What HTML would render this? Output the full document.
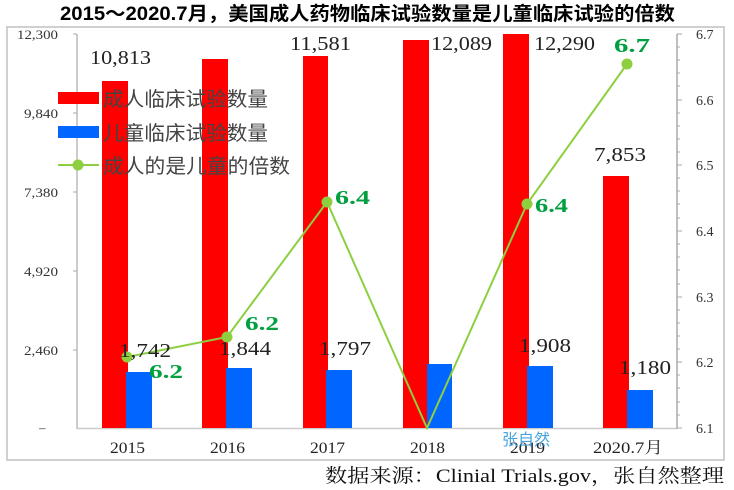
<!DOCTYPE html>
<html><head><meta charset="utf-8"><style>
html,body{margin:0;padding:0;background:#fff;}
svg{display:block;}
.ser{font-family:"Liberation Serif","Noto Serif CJK SC",serif;}
.cj{font-family:"Liberation Sans","Noto Sans CJK SC",sans-serif;}
</style></head><body>
<svg width="734" height="490" viewBox="0 0 734 490" xmlns="http://www.w3.org/2000/svg">
<rect width="734" height="490" fill="#fff"/>
<text x="60" y="20" textLength="615" lengthAdjust="spacingAndGlyphs" class="cj" font-size="19" font-weight="bold" fill="#000">2015～2020.7月，美国成人药物临床试验数量是儿童临床试验的倍数</text>
<rect x="7" y="27" width="717" height="433" fill="none" stroke="#d0d0d0" stroke-width="2"/>
<line x1="77" y1="34" x2="77" y2="429" stroke="#bbb" stroke-width="1.5"/>
<line x1="77" y1="428.5" x2="677" y2="428.5" stroke="#ccc" stroke-width="1.5"/>
<line x1="677" y1="34" x2="677" y2="429" stroke="#aaa" stroke-width="1.5"/>
<g stroke="#aaa" stroke-width="1">
<line x1="73" y1="34" x2="77" y2="34"/><line x1="73" y1="113" x2="77" y2="113"/><line x1="73" y1="192" x2="77" y2="192"/><line x1="73" y1="271" x2="77" y2="271"/><line x1="73" y1="350" x2="77" y2="350"/>
</g>
<g stroke="#aaa" stroke-width="1">
<line x1="677" y1="34" x2="682" y2="34"/><line x1="677" y1="100" x2="682" y2="100"/><line x1="677" y1="165" x2="682" y2="165"/><line x1="677" y1="231" x2="682" y2="231"/><line x1="677" y1="297" x2="682" y2="297"/><line x1="677" y1="362" x2="682" y2="362"/><line x1="677" y1="428" x2="682" y2="428"/>
<line x1="677" y1="47" x2="680" y2="47"/><line x1="677" y1="60" x2="680" y2="60"/><line x1="677" y1="73" x2="680" y2="73"/><line x1="677" y1="86" x2="680" y2="86"/>
<line x1="677" y1="113" x2="680" y2="113"/><line x1="677" y1="126" x2="680" y2="126"/><line x1="677" y1="139" x2="680" y2="139"/><line x1="677" y1="152" x2="680" y2="152"/>
<line x1="677" y1="178" x2="680" y2="178"/><line x1="677" y1="191" x2="680" y2="191"/><line x1="677" y1="204" x2="680" y2="204"/><line x1="677" y1="218" x2="680" y2="218"/>
<line x1="677" y1="244" x2="680" y2="244"/><line x1="677" y1="257" x2="680" y2="257"/><line x1="677" y1="270" x2="680" y2="270"/><line x1="677" y1="284" x2="680" y2="284"/>
<line x1="677" y1="310" x2="680" y2="310"/><line x1="677" y1="323" x2="680" y2="323"/><line x1="677" y1="336" x2="680" y2="336"/><line x1="677" y1="349" x2="680" y2="349"/>
<line x1="677" y1="375" x2="680" y2="375"/><line x1="677" y1="388" x2="680" y2="388"/><line x1="677" y1="402" x2="680" y2="402"/><line x1="677" y1="415" x2="680" y2="415"/>
</g>
<g class="ser" font-size="13" fill="#333">
<text x="17" y="39" textLength="41" lengthAdjust="spacingAndGlyphs">12,300</text>
<text x="24" y="118" textLength="34" lengthAdjust="spacingAndGlyphs">9,840</text>
<text x="24" y="197" textLength="34" lengthAdjust="spacingAndGlyphs">7,380</text>
<text x="24" y="276" textLength="34" lengthAdjust="spacingAndGlyphs">4,920</text>
<text x="24" y="355" textLength="34" lengthAdjust="spacingAndGlyphs">2,460</text>
<text x="39" y="432">–</text>
</g>
<g class="ser" font-size="14" fill="#333">
<text x="696" y="39">6.7</text><text x="696" y="105">6.6</text><text x="696" y="170">6.5</text><text x="696" y="236">6.4</text><text x="696" y="302">6.3</text><text x="696" y="367">6.2</text><text x="696" y="433">6.1</text>
</g>
<g fill="#ff0000">
<rect x="102" y="81" width="26" height="347"/>
<rect x="202" y="59" width="26" height="369"/>
<rect x="303" y="56" width="25" height="372"/>
<rect x="403" y="40" width="26" height="388"/>
<rect x="503" y="34" width="26" height="394"/>
<rect x="603" y="176" width="26" height="252"/>
</g>
<g fill="#0066ff">
<rect x="126" y="372" width="26" height="56"/>
<rect x="226" y="368" width="26" height="60"/>
<rect x="326" y="370" width="26" height="58"/>
<rect x="427" y="364" width="25" height="64"/>
<rect x="527" y="366" width="26" height="62"/>
<rect x="627" y="390" width="26" height="38"/>
</g>
<polyline points="127,357 227,337 327,202 427,428 527,204 627,64" fill="none" stroke="#8dcf3f" stroke-width="2"/>
<g fill="#8dcf3f">
<circle cx="127" cy="357" r="5.5"/><circle cx="227" cy="337" r="5.5"/><circle cx="327" cy="202" r="5.5"/><circle cx="527" cy="204" r="5.5"/><circle cx="627" cy="64" r="5.5"/>
</g>
<g class="ser" font-size="20" fill="#222" lengthAdjust="spacingAndGlyphs">
<text x="90" y="64" textLength="61" lengthAdjust="spacingAndGlyphs">10,813</text>
<text x="290" y="50" textLength="61" lengthAdjust="spacingAndGlyphs">11,581</text>
<text x="431" y="50" textLength="61" lengthAdjust="spacingAndGlyphs">12,089</text>
<text x="534" y="50" textLength="61" lengthAdjust="spacingAndGlyphs">12,290</text>
<text x="594" y="161" textLength="52" lengthAdjust="spacingAndGlyphs">7,853</text>
<text x="119" y="357" textLength="52" lengthAdjust="spacingAndGlyphs">1,742</text>
<text x="219" y="355" textLength="52" lengthAdjust="spacingAndGlyphs">1,844</text>
<text x="319" y="355" textLength="52" lengthAdjust="spacingAndGlyphs">1,797</text>
<text x="519" y="352" textLength="52" lengthAdjust="spacingAndGlyphs">1,908</text>
<text x="619" y="374" textLength="52" lengthAdjust="spacingAndGlyphs">1,180</text>
</g>
<g class="ser" font-size="20" font-weight="bold" fill="#00a040">
<text x="149" y="378" textLength="34" lengthAdjust="spacingAndGlyphs">6.2</text>
<text x="245" y="330" textLength="34" lengthAdjust="spacingAndGlyphs">6.2</text>
<text x="335" y="204" textLength="35" lengthAdjust="spacingAndGlyphs">6.4</text>
<text x="535" y="212" textLength="33" lengthAdjust="spacingAndGlyphs">6.4</text>
<text x="614" y="52" textLength="36" lengthAdjust="spacingAndGlyphs">6.7</text>
</g>
<rect x="58" y="92" width="41" height="12" fill="#ff0000"/>
<rect x="58" y="126" width="41" height="12" fill="#0066ff"/>
<line x1="58" y1="165" x2="99" y2="165" stroke="#8dcf3f" stroke-width="2"/>
<circle cx="78" cy="165" r="5.5" fill="#8dcf3f"/>
<g class="cj" font-size="20" fill="#444">
<text x="103" y="106" textLength="165" lengthAdjust="spacingAndGlyphs">成人临床试验数量</text>
<text x="103" y="140" textLength="165" lengthAdjust="spacingAndGlyphs">儿童临床试验数量</text>
<text x="103" y="173" textLength="187" lengthAdjust="spacingAndGlyphs">成人的是儿童的倍数</text>
</g>
<g class="ser" font-size="16" fill="#222">
<text x="110" y="453" textLength="35" lengthAdjust="spacingAndGlyphs">2015</text>
<text x="210" y="453" textLength="35" lengthAdjust="spacingAndGlyphs">2016</text>
<text x="310" y="453" textLength="35" lengthAdjust="spacingAndGlyphs">2017</text>
<text x="410" y="453" textLength="35" lengthAdjust="spacingAndGlyphs">2018</text>
<text x="510" y="453" textLength="35" lengthAdjust="spacingAndGlyphs">2019</text>
<text x="593" y="453" textLength="70" lengthAdjust="spacingAndGlyphs">2020.7月</text>
</g>
<text x="502" y="445" class="cj" font-size="16" fill="#4aa3df">张自然</text>
<text x="325" y="482" textLength="399" lengthAdjust="spacingAndGlyphs" class="ser" font-size="19" fill="#111">数据来源：Clinial Trials.gov，张自然整理</text>
</svg>
</body></html>
